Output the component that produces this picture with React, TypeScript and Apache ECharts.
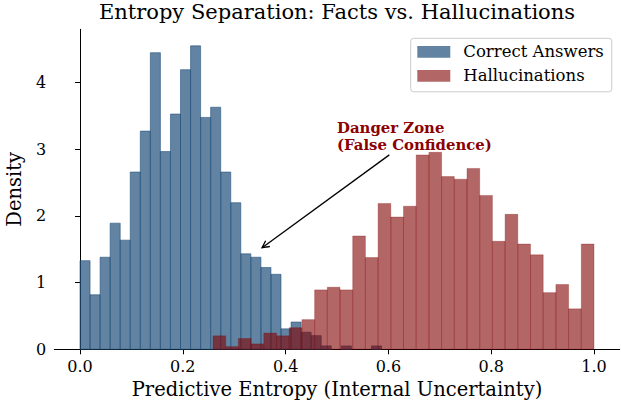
import React, { useEffect, useRef } from 'react';
import * as echarts from 'echarts';

// ---- data ----
const binCount = 30;
const correctRange = [0.0, 0.5866];
const hallucRange = [0.2588, 1.0];
const correctDensity = [
  1.33, 0.818, 1.381, 1.892, 1.637, 2.659, 3.273, 4.449, 2.966, 3.529,
  4.194, 4.552, 3.478, 3.631, 2.659, 2.199, 1.432, 1.381, 1.227, 1.125,
  0.307, 0.409, 0.256, 0.205, 0.051, 0, 0.051, 0, 0, 0.051,
];
const hallucDensity = [
  0.202, 0.04, 0.162, 0.081, 0.243, 0.202, 0.324, 0.445, 0.891, 0.931,
  0.891, 1.7, 1.376, 2.186, 1.984, 2.146, 2.915, 2.955, 2.591, 2.551,
  2.713, 2.308, 1.619, 2.024, 1.579, 1.417, 0.85, 0.972, 0.607, 1.579,
];
const seriesNames = ['Correct Answers', 'Hallucinations'];
const xTicks = [0, 0.2, 0.4, 0.6, 0.8, 1.0];
const yTicks = [0, 1, 2, 3, 4];
const xExtent = [-0.05, 1.05];
const yExtent = [0, 4.8];
const titleText = 'Entropy Separation: Facts vs. Hallucinations';
const xName = 'Predictive Entropy (Internal Uncertainty)';
const yName = 'Density';
const dangerText = 'Danger Zone\n(False Confidence)';
const dangerTextAt = [0.5, 3.0];
const dangerPointAt = [0.35, 1.5];

const FONT = '"DejaVu Serif", serif';
const BLUE = 'rgba(31,78,121,0.7)';
const RED = 'rgba(128,0,0,0.6)';

function toBins(range: number[], dens: number[]) {
  const w = (range[1] - range[0]) / binCount;
  return dens.map((d, i) => [range[0] + i * w, range[0] + (i + 1) * w, d]);
}

function barRender(fill: string, lw: number) {
  return (params: any, api: any) => {
    const x0 = api.value(0);
    const x1 = api.value(1);
    const h = api.value(2);
    if (!(h > 0)) return null;
    const a = api.coord([x0, h]);
    const b = api.coord([x1, 0]);
    return {
      type: 'rect',
      shape: { x: a[0], y: a[1], width: b[0] - a[0], height: b[1] - a[1] },
      style: { fill, stroke: fill, lineWidth: lw },
    };
  };
}

function annotationRender(params: any, api: any) {
  const t = api.coord([api.value(0), api.value(1)]);
  const p = api.coord([api.value(2), api.value(3)]);
  const boxW = 157;
  const boxTop = t[1] - 31;
  const boxBottom = t[1] + 4;
  const cx = t[0] + boxW / 2;
  const cy = (boxTop + boxBottom) / 2;
  const dx = p[0] - cx;
  const dy = p[1] - cy;
  const len = Math.hypot(dx, dy);
  const ux = dx / len;
  const uy = dy / len;
  let tExit = (boxBottom - cy) / uy;
  const tLeft = (t[0] - cx) / ux;
  if (tLeft > 0 && tLeft < tExit) tExit = tLeft;
  const shrink = 2.7;
  const sx = cx + ux * (tExit + shrink);
  const sy = cy + uy * (tExit + shrink);
  const ex = p[0] - ux * shrink;
  const ey = p[1] - uy * shrink;
  const hl = 7;
  const hw = 3.6;
  const nx = -uy;
  const ny = ux;
  const bx = ex - ux * hl;
  const by = ey - uy * hl;
  return {
    type: 'group',
    children: [
      {
        type: 'text',
        x: t[0],
        y: t[1] + 4,
        style: {
          text: dangerText,
          fill: '#8B0000',
          fontFamily: FONT,
          fontWeight: 'bold',
          fontSize: 14.9,
          lineHeight: 17,
          align: 'left',
          verticalAlign: 'bottom',
        },
      },
      {
        type: 'line',
        shape: { x1: sx, y1: sy, x2: ex, y2: ey },
        style: { stroke: '#000', lineWidth: 1.3 },
      },
      {
        type: 'polyline',
        shape: {
          points: [
            [bx + nx * hw, by + ny * hw],
            [ex, ey],
            [bx - nx * hw, by - ny * hw],
          ],
        },
        style: { stroke: '#000', lineWidth: 1.3, fill: 'none' },
      },
    ],
  };
}

export default function App() {
  const ref = useRef<HTMLDivElement>(null);
  useEffect(() => {
    if (!ref.current) return;
    const chart = echarts.init(ref.current, null, { renderer: 'svg' });
    const axisLine = { show: true, lineStyle: { color: '#000', width: 1 } };
    chart.setOption({
      animation: false,
      backgroundColor: '#fff',
      title: {
        text: titleText,
        left: 337,
        textAlign: 'center',
        top: 1,
        padding: 0,
        textStyle: { fontFamily: FONT, fontSize: 21, fontWeight: 'normal', color: '#000' },
      },
      grid: {
        left: 54.3,
        right: 1.3,
        top: 29.3,
        bottom: 50.7,
        containLabel: false,
        outerBoundsMode: 'none',
      },
      legend: {
        data: seriesNames,
        orient: 'vertical',
        left: 410.7,
        top: 38.3,
        icon: 'rect',
        itemWidth: 33,
        itemHeight: 11.7,
        itemGap: 4,
        padding: [3.5, 8, 6, 6.6],
        backgroundColor: 'rgba(255,255,255,0.8)',
        borderColor: '#cccccc',
        borderWidth: 1,
        borderRadius: 3,
        itemStyle: { borderWidth: 0 },
        textStyle: { fontFamily: FONT, fontSize: 16.5, color: '#000', lineHeight: 20, padding: [0, 0, 0, 8] },
      },
      xAxis: {
        type: 'value',
        min: xExtent[0],
        max: xExtent[1],
        axisLine,
        axisTick: { show: true, length: 5, lineStyle: { color: '#000' }, customValues: xTicks },
        axisLabel: {
          customValues: xTicks,
          formatter: (v: number) => v.toFixed(1),
          fontFamily: FONT,
          fontSize: 16,
          color: '#000',
          margin: 9,
        },
        splitLine: { show: false },
        name: xName,
        nameLocation: 'middle',
        nameGap: 29,
        nameTextStyle: { fontFamily: FONT, fontSize: 19.5, color: '#000' },
      },
      yAxis: {
        type: 'value',
        min: yExtent[0],
        max: yExtent[1],
        axisLine,
        axisTick: { show: true, length: 5, lineStyle: { color: '#000' }, customValues: yTicks },
        axisLabel: {
          customValues: yTicks,
          formatter: (v: number) => String(Math.round(v)),
          fontFamily: FONT,
          fontSize: 16,
          color: '#000',
          margin: 8,
        },
        splitLine: { show: false },
        name: yName,
        nameLocation: 'middle',
        nameGap: 30,
        nameRotate: 90,
        nameTextStyle: { fontFamily: FONT, fontSize: 19.5, color: '#000' },
      },
      series: [
        {
          name: seriesNames[0],
          type: 'custom',
          renderItem: barRender(BLUE, 0.8),
          itemStyle: { color: BLUE },
          encode: { x: [0, 1], y: 2 },
          data: toBins(correctRange, correctDensity),
          z: 2,
        },
        {
          name: seriesNames[1],
          type: 'custom',
          renderItem: barRender(RED, 0.45),
          itemStyle: { color: RED },
          encode: { x: [0, 1], y: 2 },
          data: toBins(hallucRange, hallucDensity),
          z: 3,
        },
        {
          name: 'annotation',
          type: 'custom',
          renderItem: annotationRender,
          encode: { x: [0, 2], y: [1, 3] },
          data: [[dangerTextAt[0], dangerTextAt[1], dangerPointAt[0], dangerPointAt[1]]],
          silent: true,
          clip: false,
          z: 10,
        },
      ],
    });
    return () => chart.dispose();
  }, []);
  return (
    <div
      ref={ref}
      style={{ position: 'fixed', left: 0, top: 0, width: 621, height: 400, background: '#fff' }}
    />
  );
}
